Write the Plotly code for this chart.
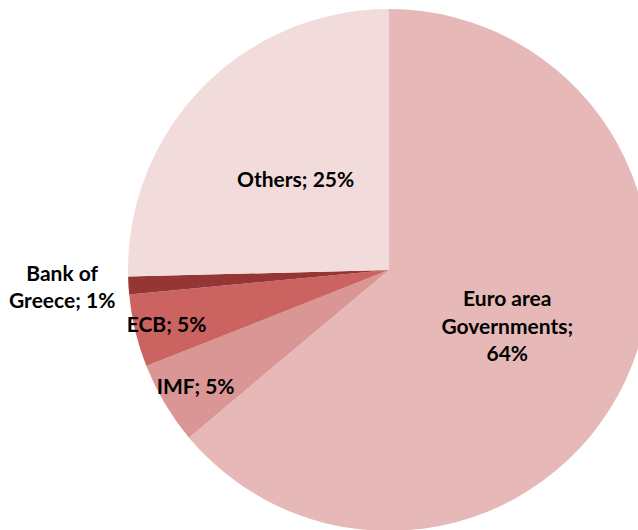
import math
import plotly.graph_objects as go

labels = ["Euro area Governments", "IMF", "ECB", "Bank of Greece", "Others"]
display = ["Euro area<br>Governments;<br>", "IMF; ", "ECB; ", "Bank of<br>Greece; ", "Others; "]
values = [63.9, 5.1, 4.5, 1.1, 25.4]
colors = ["#E6B8B7", "#DA9694", "#CB6360", "#963634", "#F2DCDB"]
positions = ["inside", "inside", "inside", "outside", "none"]

W, H = 660, 540
cx, cy, r = 389, 270, 261
FONT = dict(family="Lato", size=21, color="#000000", weight="bold")

fig = go.Figure(go.Pie(
    labels=labels,
    values=values,
    customdata=display,
    texttemplate="%{customdata}%{percent:.0%}",
    textposition=positions,
    insidetextorientation="horizontal",
    sort=False,
    direction="clockwise",
    rotation=0,
    marker=dict(colors=colors, line=dict(width=0)),
    textfont=FONT,
    outsidetextfont=FONT,
    showlegend=False,
    hoverinfo="label+percent",
    domain=dict(x=[(cx - r) / W, (cx + r) / W], y=[1 - (cy + r) / H, 1 - (cy - r) / H]),
))

# label for the "Others" slice, placed at half radius along its mid-angle
total = sum(values)
start = sum(values[:4]) / total * 360
mid = math.radians(start + values[4] / total * 180)
lx = cx + 0.5 * r * math.sin(mid)
ly = cy - 0.5 * r * math.cos(mid)
fig.add_annotation(
    x=lx / W, y=1 - ly / H, xref="paper", yref="paper",
    text=f"{display[4]}{round(values[4] / total * 100)}%",
    showarrow=False, font=FONT, xanchor="center", yanchor="middle",
)

fig.update_layout(
    width=W, height=H,
    margin=dict(l=0, r=0, t=0, b=0),
    paper_bgcolor="white",
    plot_bgcolor="white",
    font=dict(family="Lato", size=21, color="#000000"),
    uniformtext=dict(minsize=21, mode="show"),
)

fig.write_html(
    "out.html",
    post_script="document.body.style.overflow='hidden';document.documentElement.style.overflow='hidden';document.body.style.margin='0';",
)
